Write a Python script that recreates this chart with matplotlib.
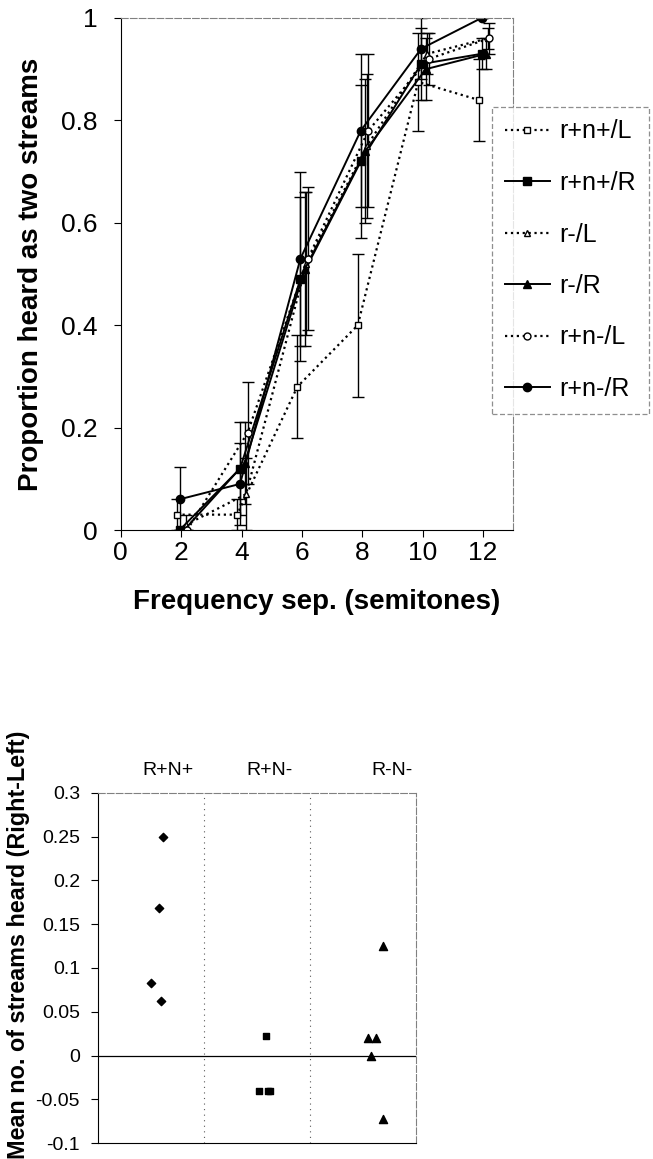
import matplotlib
matplotlib.use("Agg")
import matplotlib.pyplot as plt
import matplotlib.transforms as mtransforms

plt.rcParams['font.family'] = ['Liberation Sans', 'DejaVu Sans']

# top panel: proportion heard as two streams
SEMITONES = [2, 4, 6, 8, 10, 12]
SERIES = ['r+n+/L', 'r+n+/R', 'r-/L', 'r-/R', 'r+n-/L', 'r+n-/R']
X_SHIFT = [-0.15, -0.05, 0.15, 0.1, 0.2, -0.05]
PROP = [
    [0.03, 0.03, 0.28, 0.40, 0.875, 0.84],
    [0.00, 0.12, 0.49, 0.72, 0.91, 0.93],
    [0.01, 0.07, 0.52, 0.75, 0.93, 0.96],
    [0.00, 0.13, 0.51, 0.74, 0.90, 0.93],
    [0.00, 0.19, 0.53, 0.78, 0.92, 0.96],
    [0.06, 0.09, 0.53, 0.78, 0.94, 1.00],
]
ERR = [
    [0.03, 0.03, 0.10, 0.14, 0.095, 0.08],
    [0.00, 0.09, 0.16, 0.15, 0.07, 0.03],
    [0.02, 0.07, 0.14, 0.14, 0.04, 0.02],
    [0.00, 0.08, 0.15, 0.14, 0.06, 0.03],
    [0.00, 0.10, 0.14, 0.15, 0.05, 0.03],
    [0.063, 0.08, 0.17, 0.15, 0.06, 0.00],
]
MARKERS = ['s', 's', '^', '^', 'o', 'o']
FILLED = [False, True, False, True, False, True]

# bottom panel: right minus left
GROUPS = ['R+N+', 'R+N-', 'R-N-']
GROUP_LABEL_X = [0.66, 1.62, 2.77]
RNP_X = [0.61, 0.575, 0.50, 0.595]
RNP_Y = [0.25, 0.168, 0.083, 0.062]
RNM_X = [1.585, 1.52, 1.60, 1.62]
RNM_Y = [0.022, -0.04, -0.04, -0.04]
RM_X = [2.55, 2.62, 2.575, 2.69, 2.69]
RM_Y = [0.02, 0.02, 0.0, 0.125, -0.073]

fig = plt.figure(figsize=(6.53, 11.59), dpi=100)

ax = fig.add_axes([0.185, 0.5427, 0.601, 0.4418])
handles = []
for i, name in enumerate(SERIES):
    xs = [x + X_SHIFT[i] for x in SEMITONES]
    ls = '-' if FILLED[i] else ':'
    c = ax.errorbar(xs, PROP[i], yerr=ERR[i], color='black', ls=ls,
                    lw=1.4 if FILLED[i] else 1.6,
                    marker=MARKERS[i], ms=6 if FILLED[i] else 5,
                    mfc='black' if FILLED[i] else 'white', mec='black',
                    elinewidth=1.0, capsize=4, capthick=1.0)
    c.lines[0].set_label(name)
    handles.append(c.lines[0])
ax.set_xlim(0, 13)
ax.set_ylim(0, 1)
ax.set_xticks([0, 2, 4, 6, 8, 10, 12])
ax.set_yticks([0, 0.2, 0.4, 0.6, 0.8, 1])
ax.set_yticklabels(['0', '0.2', '0.4', '0.6', '0.8', '1'])
ax.tick_params(direction='out', labelsize=19, length=5)
ax.tick_params(axis='x', pad=3)
ax.tick_params(axis='y', pad=12)
ax.set_xlabel('Frequency sep. (semitones)', fontsize=20, fontweight='bold', labelpad=17)
ax.set_ylabel('Proportion heard as two streams', fontsize=20, fontweight='bold', labelpad=12)
for s in ['top', 'right']:
    ax.spines[s].set_color('0.5')
    ax.spines[s].set_linestyle((0, (6, 2)))
leg = ax.legend(handles=handles, loc='upper left',
                bbox_to_anchor=(492 / 653, 1 - 107 / 1159),
                bbox_transform=fig.transFigure, fontsize=18, frameon=True,
                fancybox=False, labelspacing=1.1, handlelength=1.8,
                borderpad=0.5, handletextpad=0.4, borderaxespad=0)
leg.get_frame().set_edgecolor('0.45')
leg.get_frame().set_linestyle((0, (4, 2)))
leg.get_frame().set_linewidth(0.9)

bx = fig.add_axes([0.150, 0.0138, 0.487, 0.302])
bx.scatter(RNP_X, RNP_Y, marker='D', s=18, color='black', zorder=3)
bx.scatter(RNM_X, RNM_Y, marker='s', s=24, color='black', zorder=3)
bx.scatter(RM_X, RM_Y, marker='^', s=34, color='black', zorder=3)
bx.axhline(0, color='black', lw=0.9)
for xv in [1, 2]:
    bx.axvline(xv, color='0.35', lw=0.8, ls=(0, (1, 4)))
bx.set_xlim(0, 3)
bx.set_ylim(-0.1, 0.3)
bx.set_xticks([])
bx.set_yticks([-0.1, -0.05, 0, 0.05, 0.1, 0.15, 0.2, 0.25, 0.3])
bx.set_yticklabels(['-0.1', '-0.05', '0', '0.05', '0.1', '0.15', '0.2', '0.25', '0.3'])
bx.tick_params(direction='out', labelsize=14, length=5, pad=8)
bx.set_ylabel('Mean no. of streams heard (Right-Left)', fontsize=16.8,
              fontweight='bold')
bx.yaxis.set_label_coords(-0.214, 0.566)
for s in ['top', 'right']:
    bx.spines[s].set_color('0.5')
    bx.spines[s].set_linestyle((0, (6, 2)))
trans = mtransforms.blended_transform_factory(bx.transData, bx.transAxes)
for gx, g in zip(GROUP_LABEL_X, GROUPS):
    bx.text(gx, 1.065, g, transform=trans, ha='center', va='center', fontsize=14)

fig.savefig('out.png', dpi=100)
